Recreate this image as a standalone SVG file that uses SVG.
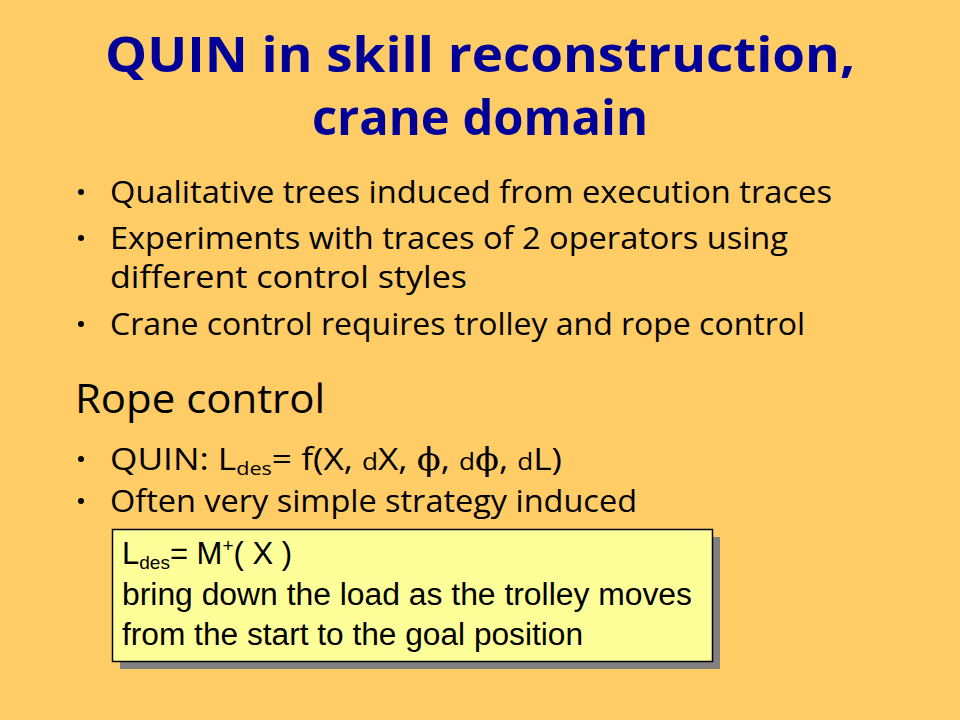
<svg xmlns="http://www.w3.org/2000/svg" width="960" height="720" viewBox="0 0 960 720">
<style>
.bg{fill:#FFCC66}
.title{font-family:"Open Sans","DejaVu Sans",sans-serif;font-weight:bold;font-size:48px;fill:#000099;text-anchor:middle}
.body{font-family:"Open Sans","DejaVu Sans",sans-serif;font-size:31px;fill:#000000}
.head{font-family:"Open Sans","DejaVu Sans",sans-serif;font-size:40px;fill:#000000}
.box{font-family:"Liberation Sans",Arial,sans-serif;font-size:31px;fill:#000000}
.bullet{fill:#000000}
</style>
<rect class="bg" x="0" y="0" width="960" height="720"/>
<g id="title">
<text class="title" x="480" y="72" textLength="750" lengthAdjust="spacingAndGlyphs">QUIN in skill reconstruction,</text>
<text class="title" x="480" y="135" textLength="336" lengthAdjust="spacingAndGlyphs">crane domain</text>
</g>
<g id="bullets">
<circle class="bullet" cx="81" cy="192" r="3"/>
<text class="body" x="110" y="203" textLength="722" lengthAdjust="spacingAndGlyphs">Qualitative trees induced from execution traces</text>
<circle class="bullet" cx="81" cy="238" r="3"/>
<text class="body" x="110" y="249" textLength="678" lengthAdjust="spacingAndGlyphs">Experiments with traces of 2 operators using</text>
<text class="body" x="110" y="288" textLength="357" lengthAdjust="spacingAndGlyphs">different control styles</text>
<circle class="bullet" cx="81" cy="324" r="3"/>
<text class="body" x="110" y="335" textLength="695" lengthAdjust="spacingAndGlyphs">Crane control requires trolley and rope control</text>
</g>
<g id="rope-control">
<text class="head" x="75" y="413" textLength="250" lengthAdjust="spacingAndGlyphs">Rope control</text>
<circle class="bullet" cx="81" cy="459" r="3"/>
<text class="body" x="110" y="470" textLength="452" lengthAdjust="spacingAndGlyphs">QUIN: L<tspan font-size="19" dy="5">des</tspan><tspan dy="-5">= f(X, </tspan><tspan font-size="23">d</tspan>X, <tspan font-family="'DejaVu Serif',serif">ϕ</tspan>, <tspan font-size="23">d</tspan><tspan font-family="'DejaVu Serif',serif">ϕ</tspan>, <tspan font-size="23">d</tspan>L)</text>
<circle class="bullet" cx="81" cy="501" r="3"/>
<text class="body" x="110" y="512" textLength="527" lengthAdjust="spacingAndGlyphs">Often very simple strategy induced</text>
</g>
<g id="strategy-box">
<rect x="120" y="537" width="600" height="132" fill="#808080"/>
<rect x="112.5" y="529.5" width="600" height="132" fill="#FFFF99" stroke="#000000" stroke-width="1.5"/>
<text class="box" x="122" y="564">L<tspan font-size="19" dy="5">des</tspan><tspan dy="-5">= M</tspan><tspan font-size="19" dy="-12">+</tspan><tspan dy="12">( X )</tspan></text>
<text class="box" x="122" y="605" textLength="570" lengthAdjust="spacingAndGlyphs">bring down the load as the trolley moves</text>
<text class="box" x="122" y="645" textLength="461" lengthAdjust="spacingAndGlyphs">from the start to the goal position</text>
</g>
</svg>
